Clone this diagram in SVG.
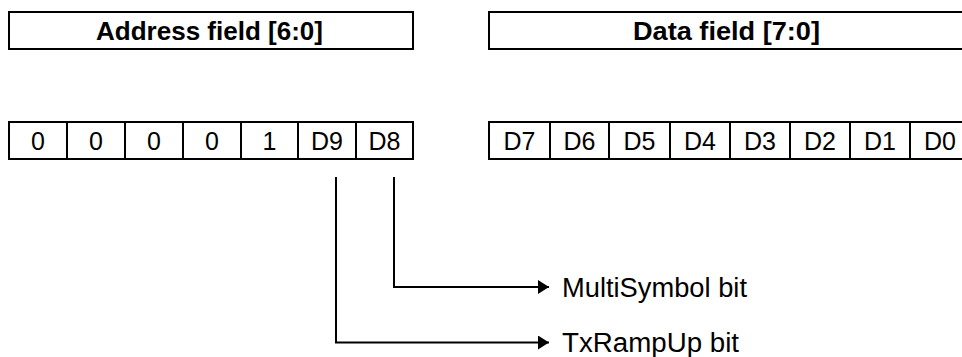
<svg xmlns="http://www.w3.org/2000/svg" width="962" height="357" viewBox="0 0 962 357">
<style>
  .box { fill: #fff; stroke: #000; stroke-width: 2; }
  .hdr { font-family: "Liberation Sans", Arial, sans-serif; font-weight: bold; font-size: 26px; fill: #000; }
  .cell { font-family: "Liberation Sans", Arial, sans-serif; font-size: 25px; fill: #000; text-anchor: middle; }
  .lbl { font-family: "Liberation Sans", Arial, sans-serif; font-size: 27px; fill: #000; }
  .conn { fill: none; stroke: #000; stroke-width: 2; }
</style>
<defs>
  <marker id="arr" viewBox="0 0 11 14" refX="11" refY="7" markerWidth="11" markerHeight="14" markerUnits="userSpaceOnUse" orient="auto">
    <path d="M0,0 L11,7 L0,14 Z" fill="#000"/>
  </marker>
</defs>
<rect width="962" height="357" fill="#fff"/>
<g id="address-field">
  <rect class="box" x="9" y="12" width="404" height="37"/>
  <text class="hdr" x="96" y="40" textLength="227" lengthAdjust="spacingAndGlyphs">Address field [6:0]</text>
</g>
<g id="data-field">
  <rect class="box" x="489" y="12" width="480" height="37"/>
  <text class="hdr" x="633" y="40" textLength="187" lengthAdjust="spacingAndGlyphs">Data field [7:0]</text>
</g>
<g id="address-bits">
  <rect class="box" x="9" y="122" width="58" height="37"/>
  <rect class="box" x="67" y="122" width="58" height="37"/>
  <rect class="box" x="125" y="122" width="58" height="37"/>
  <rect class="box" x="183" y="122" width="58" height="37"/>
  <rect class="box" x="241" y="122" width="57" height="37"/>
  <rect class="box" x="298" y="122" width="58" height="37"/>
  <rect class="box" x="356" y="122" width="57" height="37"/>
  <text class="cell" x="38" y="149.5">0</text>
  <text class="cell" x="96" y="149.5">0</text>
  <text class="cell" x="154" y="149.5">0</text>
  <text class="cell" x="212" y="149.5">0</text>
  <text class="cell" x="269.5" y="149.5">1</text>
  <text class="cell" x="327" y="149.5">D9</text>
  <text class="cell" x="384.5" y="149.5">D8</text>
</g>
<g id="data-bits">
  <rect class="box" x="489" y="122" width="61" height="37"/>
  <rect class="box" x="550" y="122" width="59" height="37"/>
  <rect class="box" x="609" y="122" width="61" height="37"/>
  <rect class="box" x="670" y="122" width="60" height="37"/>
  <rect class="box" x="730" y="122" width="60" height="37"/>
  <rect class="box" x="790" y="122" width="60" height="37"/>
  <rect class="box" x="850" y="122" width="60" height="37"/>
  <rect class="box" x="910" y="122" width="60" height="37"/>
  <text class="cell" x="519.5" y="149.5">D7</text>
  <text class="cell" x="579.5" y="149.5">D6</text>
  <text class="cell" x="639.5" y="149.5">D5</text>
  <text class="cell" x="700" y="149.5">D4</text>
  <text class="cell" x="760" y="149.5">D3</text>
  <text class="cell" x="820" y="149.5">D2</text>
  <text class="cell" x="880" y="149.5">D1</text>
  <text class="cell" x="940" y="149.5">D0</text>
</g>
<g id="multisymbol-label">
  <text class="lbl" x="562" y="297" textLength="185" lengthAdjust="spacingAndGlyphs">MultiSymbol bit</text>
</g>
<g id="txrampup-label">
  <text class="lbl" x="562" y="352" textLength="177" lengthAdjust="spacingAndGlyphs">TxRampUp bit</text>
</g>
<g id="connectors">
  <path class="conn" d="M394,177 V287 H549" marker-end="url(#arr)"/>
  <path class="conn" d="M336,177 V342.5 H549" marker-end="url(#arr)"/>
</g>
</svg>
